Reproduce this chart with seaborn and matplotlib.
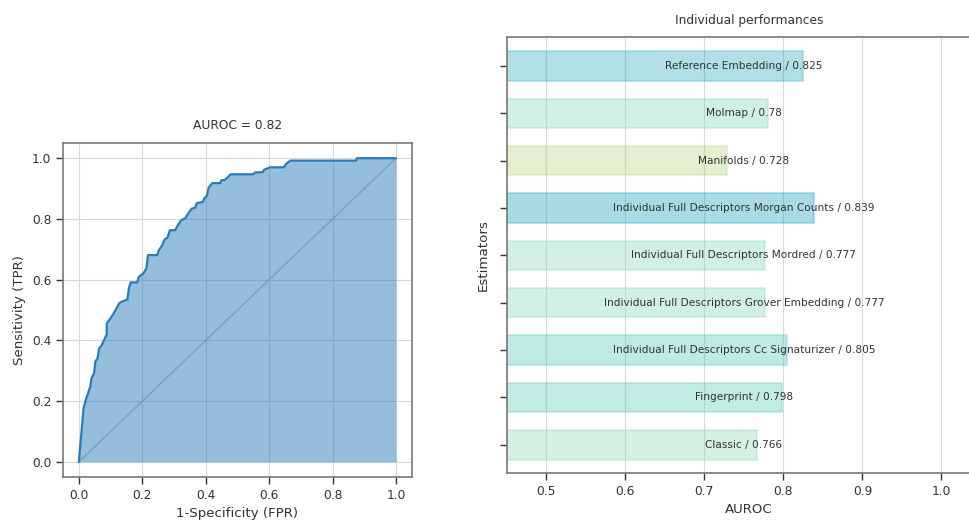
import numpy as np
import pandas as pd
import seaborn as sns
import matplotlib.pyplot as plt
from matplotlib.colors import to_rgb

# ROC curve
fpr = [0.0, 0.015, 0.022, 0.029, 0.036, 0.040, 0.048, 0.052, 0.059, 0.064, 0.071, 0.080,
       0.088, 0.088, 0.100, 0.110, 0.127, 0.134, 0.153, 0.158, 0.163, 0.184, 0.189, 0.205,
       0.213, 0.218, 0.247, 0.252, 0.263, 0.270, 0.280, 0.287, 0.304, 0.312, 0.322, 0.336,
       0.346, 0.356, 0.367, 0.372, 0.391, 0.395, 0.404, 0.409, 0.421, 0.446, 0.449, 0.461,
       0.479, 0.550, 0.555, 0.580, 0.584, 0.603, 0.646, 0.653, 0.667, 0.874, 0.877, 1.0]
tpr = [0.0, 0.177, 0.205, 0.226, 0.248, 0.276, 0.292, 0.330, 0.341, 0.374, 0.382, 0.402,
       0.420, 0.456, 0.473, 0.489, 0.522, 0.527, 0.535, 0.571, 0.591, 0.591, 0.609, 0.623,
       0.637, 0.681, 0.681, 0.697, 0.713, 0.732, 0.739, 0.763, 0.763, 0.779, 0.795, 0.803,
       0.820, 0.834, 0.837, 0.852, 0.856, 0.867, 0.877, 0.902, 0.918, 0.918, 0.927, 0.929,
       0.947, 0.947, 0.953, 0.954, 0.962, 0.970, 0.970, 0.981, 0.992, 0.992, 1.0, 1.0]
auroc = 0.82

# individual estimator performances (top to bottom)
estimators = ['Reference Embedding', 'Molmap', 'Manifolds',
              'Individual Full Descriptors Morgan Counts',
              'Individual Full Descriptors Mordred',
              'Individual Full Descriptors Grover Embedding',
              'Individual Full Descriptors Cc Signaturizer',
              'Fingerprint', 'Classic']
scores = [0.825, 0.78, 0.728, 0.839, 0.777, 0.777, 0.805, 0.798, 0.766]
bar_colors = ['#3ab2c0', '#89d9c5', '#b9d789', '#2aa5c0', '#8ed9c0',
              '#8ed9c0', '#5ac8c5', '#66cdc0', '#96dcb6']

sns.set_theme(style='whitegrid', context='paper')
plt.rcParams.update({
    'axes.edgecolor': '#777777',
    'axes.linewidth': 1.2,
    'xtick.bottom': True,
    'ytick.left': True,
    'xtick.color': '#333333',
    'ytick.color': '#333333',
    'axes.labelcolor': '#333333',
    'text.color': '#333333',
    'grid.color': '#d8d8d8',
})

fig = plt.figure(figsize=(9.69, 5.22), dpi=100)
ax1 = fig.add_axes([0.065, 0.086, 0.360, 0.640])
ax2 = fig.add_axes([0.523, 0.0933, 0.50, 0.835])

# ROC panel
ax1.plot([0, 1], [0, 1], color='#5a8fb8', alpha=0.5, lw=1.2)
ax1.fill_between(fpr, tpr, color='tab:blue', alpha=0.48, lw=0)
sns.lineplot(x=fpr, y=tpr, sort=False, estimator=None, color='#2b7bba', lw=1.6, ax=ax1)
ax1.set_xlim(-0.05, 1.05)
ax1.set_ylim(-0.05, 1.05)
ax1.set_xticks(np.arange(0, 1.01, 0.2))
ax1.set_yticks(np.arange(0, 1.01, 0.2))
ax1.set_xlabel('1-Specificity (FPR)')
ax1.set_ylabel('Sensitivity (TPR)')
ax1.set_title(f'AUROC = {auroc}', fontsize=8.8, pad=10)

# bar panel
df = pd.DataFrame({'estimator': estimators, 'auroc': scores})
sns.barplot(data=df, x='auroc', y='estimator', hue='estimator', palette=bar_colors,
            orient='h', width=0.62, legend=False, ax=ax2)
for patch, c in zip(ax2.patches, bar_colors):
    patch.set_facecolor((*to_rgb(c), 0.4))
    patch.set_edgecolor((*to_rgb(c), 0.3))
    patch.set_linewidth(1.5)
xmin, xmax = 0.45, 1.05
for i, (name, s) in enumerate(zip(estimators, scores)):
    ax2.text((xmin + xmax) / 2, i, f'{name} / {s}', ha='center', va='center',
             fontsize=7.6, color='#333333')
ax2.set_xlim(xmin, 1.0 + 0.05 * 1.0 + 0.013)
ax2.set_ylim(len(estimators) - 0.4, -0.6)
ax2.set_yticks(range(len(estimators)))
ax2.set_yticklabels([])
ax2.set_xticks(np.arange(0.5, 1.01, 0.1))
ax2.set_xlabel('AUROC')
ax2.set_ylabel('Estimators')
ax2.set_title('Individual performances', fontsize=8.8, pad=10)
ax2.set_axisbelow(True)

fig.savefig('out.png', dpi=100)
